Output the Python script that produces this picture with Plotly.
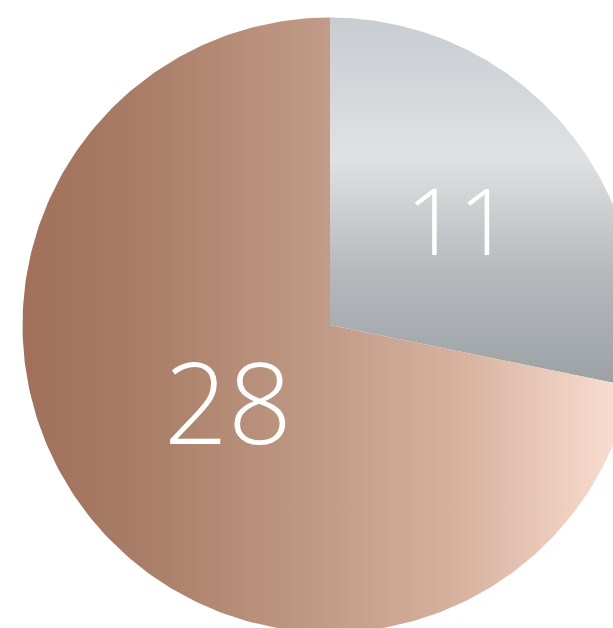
import numpy as np
import plotly.graph_objects as go

# ---- data ----
labels = ["A", "B"]
values = [11, 28]
text_labels = ["11", "28"]

# ---- style ----
gradients = [
    dict(type="vertical",
         colorscale=[[0.0, "#9ca1a5"], [0.3, "#b5b9bc"], [0.62, "#e0e1e2"],
                     [0.8, "#d4d7da"], [1.0, "#c8cdd1"]]),
    dict(type="horizontal",
         colorscale=[[0.0, "#a0705a"], [0.2, "#a97d67"], [0.5, "#c09a86"],
                     [0.75, "#d8b3a0"], [1.0, "#f8dccf"]]),
]
label_radius = [0.54, 0.43]
label_sizes = [92, 112]
label_yshift = [0, 8]

fig = go.Figure()
total = float(sum(values))
start = 0.0
for i, v in enumerate(values):
    frac0 = start / total
    frac1 = (start + v) / total
    # clockwise from 12 o'clock
    th = np.linspace(frac0, frac1, 300) * 2 * np.pi
    xs = np.concatenate([[0.0], np.sin(th), [0.0]])
    ys = np.concatenate([[0.0], np.cos(th), [0.0]])
    g = dict(gradients[i])
    if g["type"] == "horizontal":
        g["start"] = -1.0
        g["stop"] = 0.92
    else:
        g["start"] = -0.19
        g["stop"] = 1.0
    fig.add_trace(go.Scatter(
        x=xs, y=ys, mode="lines", fill="toself",
        line=dict(width=0, color="rgba(0,0,0,0)"),
        fillgradient=g, hoverinfo="text", text=labels[i],
        showlegend=False,
    ))
    mid = (frac0 + frac1) / 2 * 2 * np.pi
    fig.add_annotation(
        x=label_radius[i] * np.sin(mid), y=label_radius[i] * np.cos(mid),
        text=text_labels[i], showarrow=False, yshift=label_yshift[i],
        font=dict(family="Open Sans", size=label_sizes[i], color="white", weight=300),
        xanchor="center", yanchor="middle",
    )
    start += v

R_PX = 307.5
CX, CY = 330.0, 325.0
W, H = 613, 628
fig.update_layout(
    width=W, height=H,
    margin=dict(l=0, r=0, t=0, b=0),
    paper_bgcolor="white", plot_bgcolor="white",
    xaxis=dict(range=[(0 - CX) / R_PX, (W - CX) / R_PX], visible=False, fixedrange=True),
    yaxis=dict(range=[-(H - CY) / R_PX, CY / R_PX], visible=False, fixedrange=True),
    showlegend=False,
)
fig.write_html(
    "out.html",
    config={"displayModeBar": False},
    post_script="document.body.style.margin='0';"
                "document.documentElement.style.overflow='hidden';"
                "document.body.style.overflow='hidden';",
)
